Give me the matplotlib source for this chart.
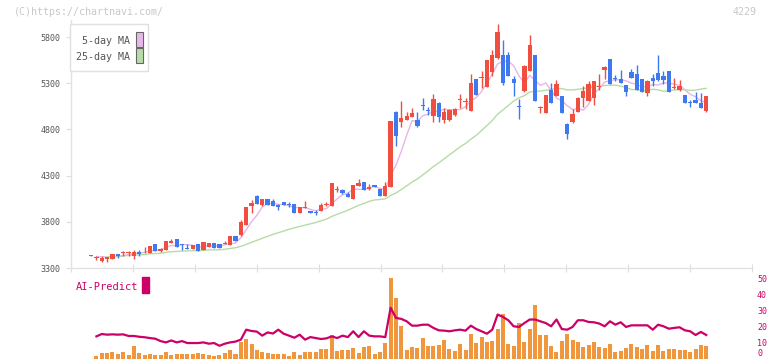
import matplotlib
matplotlib.use("Agg")
import matplotlib.pyplot as plt
from matplotlib.patches import Rectangle
import numpy as np
import pandas as pd

# daily candles (oldest first)
opens = [3435, 3405, 3380, 3395, 3400, 3450, 3460, 3460, 3430, 3475,
         3490, 3465, 3560, 3485, 3500, 3575, 3615, 3550, 3515, 3510,
         3560, 3495, 3530, 3570, 3560, 3565, 3550, 3645, 3655, 3765,
         3970, 4080, 3980, 4045, 4025, 3980, 4015, 3990, 3990, 3890,
         3950, 3920, 3905, 3920, 3985, 3975, 4148, 4145, 4100, 4050,
         4190, 4230, 4150, 4200, 4158, 4080, 4173, 4993, 4875, 4905,
         4935, 4905, 5060, 5000, 4940, 5088, 4905, 4905, 4958, 5115,
         5097, 5002, 5345, 5360, 5262, 5424, 5575, 5604, 5604, 5345,
         5050, 5219, 5431, 5604, 5028, 4980, 5226, 5157, 5157, 4861,
         4878, 4991, 5139, 5110, 5135, 5255, 5442, 5557, 5355, 5345,
         5280, 5417, 5398, 5345, 5190, 5355, 5409, 5377, 5431, 5245,
         5226, 5172, 5090, 5117, 5082, 5002]
closes = [3440, 3410, 3410, 3415, 3450, 3430, 3465, 3465, 3475, 3450,
          3495, 3540, 3485, 3510, 3590, 3590, 3530, 3545, 3510, 3550,
          3485, 3580, 3570, 3520, 3520, 3570, 3645, 3595, 3800, 3960,
          4005, 3995, 4045, 3980, 3970, 3955, 3980, 3985, 3890, 3955,
          3955, 3890, 3900, 3980, 3990, 4220, 4152, 4115, 4072, 4200,
          4222, 4145, 4180, 4173, 4080, 4187, 4896, 4730, 4925, 4945,
          4980, 4840, 5055, 4998, 5128, 4937, 4983, 5012, 5019, 5118,
          5100, 5305, 5172, 5365, 5550, 5604, 5856, 5305, 5377, 5305,
          5045, 5485, 5713, 5106, 5032, 5172, 5088, 5291, 4980, 4753,
          4962, 5135, 5212, 5291, 5323, 5260, 5474, 5291, 5350, 5305,
          5208, 5352, 5229, 5201, 5323, 5323, 5330, 5334, 5208, 5250,
          5269, 5082, 5087, 5082, 5034, 5161]
highs = [3440, 3435, 3435, 3420, 3450, 3450, 3485, 3485, 3495, 3495,
         3525, 3540, 3560, 3515, 3590, 3610, 3615, 3560, 3560, 3550,
         3560, 3580, 3570, 3570, 3560, 3590, 3650, 3645, 3820, 3960,
         4035, 4095, 4045, 4045, 4045, 3990, 4015, 4010, 3990, 3955,
         4025, 3920, 3930, 4005, 4010, 4220, 4185, 4155, 4120, 4200,
         4263, 4230, 4210, 4200, 4158, 4230, 4896, 5000, 5105, 4990,
         5030, 4990, 5140, 5040, 5180, 5095, 5030, 5025, 5030, 5182,
         5140, 5398, 5345, 5434, 5550, 5658, 5937, 5767, 5640, 5380,
         5128, 5500, 5821, 5604, 5055, 5172, 5298, 5330, 5157, 4870,
         5020, 5150, 5269, 5320, 5323, 5398, 5490, 5557, 5385, 5442,
         5280, 5450, 5496, 5345, 5334, 5400, 5604, 5430, 5431, 5355,
         5330, 5172, 5120, 5200, 5190, 5161]
lows = [3435, 3385, 3365, 3360, 3400, 3410, 3435, 3435, 3400, 3435,
        3465, 3465, 3485, 3475, 3500, 3575, 3530, 3495, 3505, 3510,
        3485, 3495, 3530, 3520, 3520, 3560, 3550, 3595, 3650, 3765,
        3900, 3995, 3975, 3980, 3970, 3925, 3980, 3965, 3890, 3890,
        3950, 3890, 3870, 3920, 3970, 3975, 4120, 4105, 4072, 4050,
        4190, 4145, 4140, 4173, 4080, 4080, 4173, 4615, 4830, 4905,
        4935, 4830, 5015, 4960, 4880, 4875, 4870, 4890, 4945, 5030,
        5020, 5002, 5172, 5244, 5262, 5380, 5560, 5280, 5377, 5157,
        4911, 5210, 5431, 5106, 4975, 4980, 5088, 5157, 4980, 4696,
        4870, 4991, 5045, 5110, 5060, 5230, 5350, 5291, 5320, 5305,
        5161, 5352, 5229, 5201, 5165, 5265, 5320, 5290, 5208, 5235,
        5215, 5082, 5040, 5082, 5034, 4990]

# lower panel: volume bars and AI-Predict line (0-50 scale)
volumes = [0, 1.7, 3.3, 3.3, 4.2, 2.9, 4.2, 2.3, 7.9, 3.5,
           2.3, 3.1, 2.3, 2.3, 4.2, 2.1, 2.9, 2.9, 2.5, 2.9,
           3.3, 2.7, 2.3, 1.25, 2.3, 3.3, 5.4, 2.9, 10, 12.1,
           9.2, 5, 3.75, 3.3, 2.9, 2.9, 2.9, 1.7, 4.2, 2.3,
           4.2, 4.2, 4.2, 6, 6, 14.8, 4.8, 5.4, 5.4, 6.7,
           3.5, 7.3, 7.9, 2.9, 4.2, 9.8, 49.8, 37.3, 20.4, 5.4,
           7.3, 6.7, 12.9, 7.9, 7.9, 8.5, 11.7, 6, 4.8, 9.2,
           5.4, 15.4, 9.8, 13.5, 10.4, 11, 18.5, 27.9, 9.2, 7.9,
           22.3, 10.4, 18.5, 33.5, 14.8, 14.8, 7.9, 4.2, 11, 15.4,
           11.7, 10.4, 7.3, 8.5, 10.4, 7.3, 6.7, 9.2, 4.2, 4.8,
           6.7, 9.2, 7.3, 6, 8.5, 4.8, 8.5, 4.8, 6, 6,
           5.4, 5.4, 4.2, 6, 8.5, 7.9]
ai_predict = [np.nan, 13.75, 15.2, 14.8, 15, 14.8, 15, 14, 14, 13.5,
              13.2, 12.7, 12.3, 10.8, 10, 11.2, 10, 10.8, 9.6, 9.6,
              9.6, 10, 9.2, 9.6, 7.9, 9.2, 10, 10.5, 11.7, 17.9,
              17.1, 16.7, 14.2, 16.2, 15.5, 17.9, 15.4, 14.2, 12.9, 14.8,
              11.7, 13.3, 12.7, 12.1, 12.5, 13.75, 12.7, 14.2, 13.3, 16.9,
              13.3, 16.9, 14.2, 13.75, 13.75, 13.3, 31.5, 25.2, 24.6, 23.1,
              20.4, 20.4, 21, 21, 19, 17.5, 17.3, 16.9, 17.5, 17.9,
              17.3, 20.4, 18.3, 16.9, 15.4, 17.9, 27.3, 25.8, 23.75, 20,
              19.6, 22, 24.2, 24.2, 23.1, 22, 20, 24.2, 18.3, 17.9,
              19.6, 23.75, 23.75, 22.7, 22.5, 21.7, 20, 23.1, 21, 22.5,
              19.6, 20.6, 20.6, 20.6, 20.6, 17.9, 21, 20, 18.5, 19,
              19.4, 17.5, 16.9, 14.6, 16.5, 14.6]

date_labels = ["11/28", "12/12", "12/26", "1/15", "1/29", "2/13",
               "3/2", "3/16", "3/31", "4/14", "4/28"]
date_idx = [15, 25, 35, 45, 55, 65, 75, 85, 95, 105, 115]

W, H = 772, 361

def fx(p):
    return p / W

def fy(p):
    return 1 - p / H

plt.rcParams['font.family'] = ['DejaVu Sans Mono']

fig = plt.figure(figsize=(W / 100, H / 100), dpi=100)
ax = fig.add_axes([fx(71), fy(268), fx(752) - fx(71), fy(20) - fy(268)])
vax = fig.add_axes([fx(71), fy(358.5), fx(752) - fx(71), fy(278) - fy(358.5)])

o = np.array(opens, float)
c = np.array(closes, float)
hi = np.array(highs, float)
lo = np.array(lows, float)
x = np.arange(len(c))
up = c >= o
red, blue = '#f04e3e', '#3f79f0'
cols = np.where(up, red, blue)

ma5 = pd.Series(c).rolling(5, min_periods=1).mean()
ma25 = pd.Series(c).rolling(25, min_periods=1).mean()
ax.plot(x[1:], ma5[1:], color='#e8b4ea', lw=1, zorder=1)
ax.plot(x[3:], ma25[3:], color='#b6dca4', lw=1, zorder=1)

ax.vlines(x, lo, hi, colors=cols, lw=1, zorder=2)
body_low = np.minimum(o, c)
body_h = np.maximum(np.abs(c - o), 10)
ax.bar(x, body_h, bottom=body_low, width=0.8, color=cols, zorder=3)

xlim = (-3.75, 123.55)
ax.set_xlim(xlim)
ax.set_ylim(3300, 5984)
for s in ['top', 'right']:
    ax.spines[s].set_visible(False)
for s in ['left', 'bottom']:
    ax.spines[s].set_color('#e2e2e2')
    ax.spines[s].set_linewidth(1)
ax.set_yticks(range(3300, 5801, 500))
ax.tick_params(axis='y', direction='out', length=3.6, color='#dddddd',
               labelsize=6, labelcolor='#555555', pad=4)
ax.set_xticks(np.linspace(xlim[0], xlim[1], 12))
ax.tick_params(axis='x', direction='inout', length=5.8, color='#dddddd',
               labelbottom=False)

for i, lbl in zip(date_idx, date_labels):
    ax.text(i, -0.056, lbl, transform=ax.get_xaxis_transform(), ha='center',
            va='center', fontsize=6, color='#555555')

vax.bar(x, volumes, width=0.75, color='#f0963c', zorder=1)
vax.plot(x, ai_predict, color='#cc0066', lw=1.6, zorder=2)
vax.set_xlim(xlim)
vax.set_ylim(0, 50)
for s in vax.spines.values():
    s.set_visible(False)
vax.set_xticks([])
vax.yaxis.tick_right()
vax.set_yticks(range(0, 51, 10))
vax.tick_params(axis='y', length=0, pad=3.6, labelsize=6, labelcolor='#cc0066')
for t in vax.get_yticklabels():
    t.set_verticalalignment('center_baseline')
vax.get_yticklabels()[0].set_verticalalignment('bottom')

fig.text(fx(76), fy(286.5), "AI-Predict", color='#cc0066', fontsize=7.5, va='center')
fig.add_artist(Rectangle((fx(142), fy(293)), fx(7), 16 / H, transform=fig.transFigure,
                         color='#cc0066'))

fig.text(fx(14), fy(12), "(C)https://chartnavi.com/", color='#c8c8c8', fontsize=7.2, va='center')
fig.text(fx(757), fy(12), "4229", color='#c8c8c8', fontsize=7.2, va='center', ha='right')

# legend box
fig.add_artist(Rectangle((fx(70), fy(71)), fx(78), 47 / H, transform=fig.transFigure,
                         facecolor='white', edgecolor='#e0e0e0', lw=1, zorder=5))
fig.text(fx(130), fy(40.5), "5-day MA", color='#555555', fontsize=7.2, va='center',
         ha='right', zorder=6)
fig.text(fx(130), fy(57.5), "25-day MA", color='#555555', fontsize=7.2, va='center',
         ha='right', zorder=6)
fig.add_artist(Rectangle((fx(136), fy(47)), fx(7), 15 / H, transform=fig.transFigure,
                         facecolor='#e8b8ea', edgecolor='#666666', lw=0.8, zorder=6))
fig.add_artist(Rectangle((fx(136), fy(63)), fx(7), 15 / H, transform=fig.transFigure,
                         facecolor='#b8dca8', edgecolor='#666666', lw=0.8, zorder=6))

fig.savefig("out.png", dpi=100, facecolor='white')
